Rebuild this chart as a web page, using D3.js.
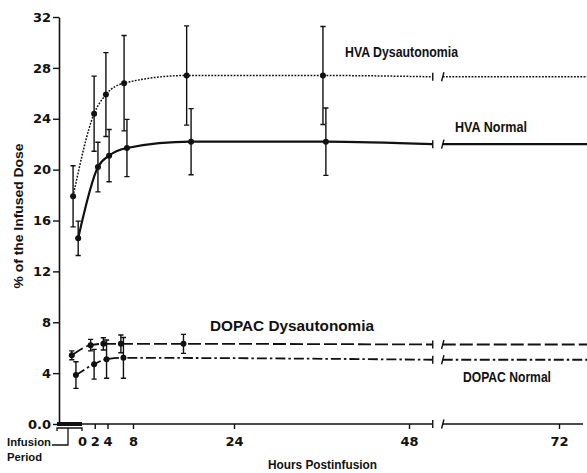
<!DOCTYPE html>
<html>
<head>
<meta charset="utf-8">
<script src="https://cdn.jsdelivr.net/npm/d3@7"></script>
<style>
  body { margin: 0; background: #fff; }
  text { font-family: "Liberation Sans", Arial, sans-serif; font-weight: bold; fill: #111; }
</style>
</head>
<body>
<div id="chart"></div>
<script>
// hours postinfusion (points are offset a little so the series do not overlap)
var hvaDysHours = [-1.4, 1.9, 3.75, 6.6, 16.5, 36.2];
var hvaDysMean = [17.9, 24.4, 25.9, 26.8, 27.4, 27.4];
var hvaDysErr = [2.4, 2.95, 3.3, 3.75, 3.9, 3.85];

var hvaNormHours = [-0.6, 2.5, 4.25, 7.05, 17.2, 36.6];
var hvaNormMean = [14.6, 20.2, 21.1, 21.7, 22.2, 22.2];
var hvaNormErr = [1.35, 1.95, 2.05, 2.25, 2.6, 2.65];

var dopacDysHours = [-1.6, 1.35, 3.35, 6.1, 16.0];
var dopacDysMean = [5.4, 6.2, 6.3, 6.3, 6.3];
var dopacDysErr = [0.35, 0.45, 0.48, 0.7, 0.75];

var dopacNormHours = [-0.95, 1.9, 3.85, 6.5];
var dopacNormMean = [3.85, 4.7, 5.1, 5.2];
var dopacNormErr = [1.05, 1.17, 1.5, 1.6];

// level each curve keeps after the last sample, drawn across the axis break
var plateau = [27.3, 22.0, 6.25, 5.05];
var seriesNames = ['HVA Dysautonomia', 'HVA Normal', 'DOPAC Dysautonomia', 'DOPAC Normal'];

var xTicks = [0, 2, 4, 8, 24, 48, 72];
var yTicks = [0, 4, 8, 12, 16, 20, 24, 28, 32];
var breakHours = [51.8, 53.4];
var lastHour = 77;

var width = 587;
var height = 473;

var x = d3.scaleLinear()
  .domain([0, 8, 24, 48, 72])
  .range([82, 133, 234, 409, 559]);

var y = d3.scaleLinear()
  .domain([0, 32])
  .range([424, 17]);

var svg = d3.select('#chart').append('svg')
  .attr('width', width)
  .attr('height', height);

var series = [
  { hours: hvaDysHours, mean: hvaDysMean, err: hvaDysErr, dash: '1.8,1.4', sw: 1.5 },
  { hours: hvaNormHours, mean: hvaNormMean, err: hvaNormErr, dash: null, sw: 2.2 },
  { hours: dopacDysHours, mean: dopacDysMean, err: dopacDysErr, dash: '13,4', sw: 1.8 },
  { hours: dopacNormHours, mean: dopacNormMean, err: dopacNormErr, dash: '10,3,2.5,3', sw: 1.8 }
];

// y axis
var yAxis = d3.axisLeft(y)
  .tickValues(yTicks)
  .tickSize(6)
  .tickSizeOuter(0)
  .tickPadding(2)
  .tickFormat(function (d) { return d === 0 ? '0.0' : d; });

var gy = svg.append('g')
  .attr('transform', 'translate(59,0)')
  .call(yAxis);
gy.select('.domain').attr('stroke', '#111').attr('stroke-width', 1.6);
gy.selectAll('.tick line').attr('stroke', '#111').attr('stroke-width', 1.4);
gy.selectAll('.tick text')
  .style('font-family', '"DejaVu Sans", sans-serif')
  .style('font-weight', 'bold')
  .style('font-size', '13px')
  .attr('fill', '#111');

// x axis (baseline drawn by hand because of the break)
var xAxis = d3.axisBottom(x)
  .tickValues(xTicks)
  .tickSize(5)
  .tickSizeOuter(0)
  .tickPadding(8);

var gx = svg.append('g')
  .attr('transform', 'translate(0,' + y(0) + ')')
  .call(xAxis);
gx.select('.domain').remove();
gx.selectAll('.tick line')
  .attr('stroke', '#111')
  .attr('stroke-width', 1.4)
  .attr('opacity', function (d) { return d === 0 ? 0 : 1; });
gx.selectAll('.tick text')
  .style('font-family', '"DejaVu Sans", sans-serif')
  .style('font-weight', 'bold')
  .style('font-size', '13px')
  .attr('fill', '#111');

var xb1 = x(breakHours[0]);
var xb2 = x(breakHours[1]);

function breakMarks(yy) {
  svg.append('line')
    .attr('x1', xb1).attr('x2', xb1)
    .attr('y1', yy - 4).attr('y2', yy + 4)
    .attr('stroke', '#111').attr('stroke-width', 1.4);
  svg.append('line')
    .attr('x1', xb2 - 1.2).attr('x2', xb2 + 1.2)
    .attr('y1', yy + 4.5).attr('y2', yy - 4.5)
    .attr('stroke', '#111').attr('stroke-width', 1.4);
}

svg.append('path')
  .attr('d', 'M59,' + y(0) + 'H' + xb1 + 'M' + xb2 + ',' + y(0) + 'H583')
  .attr('stroke', '#111').attr('stroke-width', 1.6).attr('fill', 'none');
breakMarks(y(0));

// infusion period bar and bracket
svg.append('line')
  .attr('x1', 57).attr('x2', x(0))
  .attr('y1', y(0)).attr('y2', y(0))
  .attr('stroke', '#111').attr('stroke-width', 4);
svg.append('path')
  .attr('d', 'M57,431V428H' + x(0) + 'V431M52,445H68V428')
  .attr('stroke', '#111').attr('stroke-width', 1.3).attr('fill', 'none');

svg.append('text').attr('x', 7).attr('y', 446)
  .attr('textLength', 44).attr('lengthAdjust', 'spacingAndGlyphs')
  .style('font-size', '11px').text('Infusion');
svg.append('text').attr('x', 7).attr('y', 461)
  .attr('textLength', 35).attr('lengthAdjust', 'spacingAndGlyphs')
  .style('font-size', '11px').text('Period');

// curves
var line = d3.line()
  .x(function (d) { return x(d[0]); })
  .y(function (d) { return y(d[1]); })
  .curve(d3.curveMonotoneX);

series.forEach(function (s, i) {
  var pts = s.hours.map(function (h, j) { return [h, s.mean[j]]; });
  pts.push([breakHours[0], plateau[i]]);
  var tail = [[breakHours[1], plateau[i]], [lastHour, plateau[i]]];

  [pts, tail].forEach(function (seg) {
    svg.append('path')
      .datum(seg)
      .attr('d', line)
      .attr('fill', 'none')
      .attr('stroke', '#111')
      .attr('stroke-width', s.sw)
      .attr('stroke-dasharray', s.dash);
  });
  breakMarks(y(plateau[i]));

  var g = svg.append('g');
  s.hours.forEach(function (h, j) {
    var cx = x(h);
    var top = y(s.mean[j] + s.err[j]);
    var bot = y(s.mean[j] - s.err[j]);
    g.append('path')
      .attr('d', 'M' + cx + ',' + top + 'V' + bot +
        'M' + (cx - 2.6) + ',' + top + 'H' + (cx + 2.6) +
        'M' + (cx - 2.6) + ',' + bot + 'H' + (cx + 2.6))
      .attr('stroke', '#111').attr('stroke-width', 1.4).attr('fill', 'none');
    g.append('circle')
      .attr('cx', cx).attr('cy', y(s.mean[j]))
      .attr('r', 3).attr('fill', '#111');
  });
});

// series labels
var labelPos = [
  { x: 345, y: 57, w: 113 },
  { x: 455, y: 132, w: 72 },
  { x: 210, y: 331, w: 164 },
  { x: 463, y: 382, w: 88 }
];
seriesNames.forEach(function (name, i) {
  svg.append('text')
    .attr('x', labelPos[i].x).attr('y', labelPos[i].y)
    .attr('textLength', labelPos[i].w).attr('lengthAdjust', 'spacingAndGlyphs')
    .style('font-size', '14px')
    .text(name);
});

svg.append('text')
  .attr('x', 268).attr('y', 469)
  .attr('textLength', 109).attr('lengthAdjust', 'spacingAndGlyphs')
  .style('font-size', '13px')
  .text('Hours Postinfusion');

svg.append('text')
  .attr('transform', 'translate(23,216) rotate(-90)')
  .attr('text-anchor', 'middle')
  .attr('textLength', 145).attr('lengthAdjust', 'spacingAndGlyphs')
  .style('font-size', '13.5px')
  .text('% of the Infused Dose');
</script>
</body>
</html>
